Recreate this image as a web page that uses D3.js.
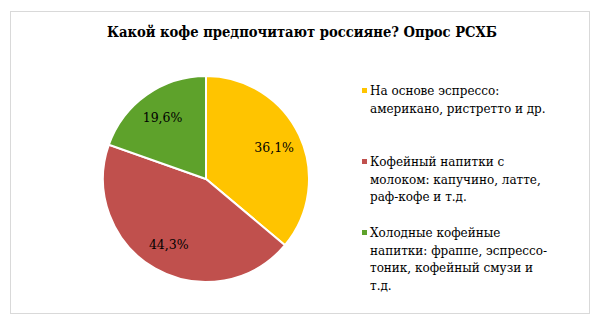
<!DOCTYPE html>
<html>
<head>
<meta charset="utf-8">
<script src="https://cdn.jsdelivr.net/npm/d3@7"></script>
<style>
  body { margin: 0; background: #fff; }
</style>
</head>
<body>
<div id="chart"></div>
<script>
const title = 'Какой кофе предпочитают россияне? Опрос РСХБ'
const categories = ['espresso', 'milk', 'cold']
const values = [36.1, 44.3, 19.6]
const valueLabels = ['36,1%', '44,3%', '19,6%']
const legendLines = [
  ['На основе эспрессо:', 'американо, ристретто и др.'],
  ['Кофейный напитки с', 'молоком: капучино, латте,', 'раф-кофе и т.д.'],
  ['Холодные кофейные', 'напитки: фраппе, эспрессо-', 'тоник, кофейный смузи и', 'т.д.']
]
const colorRange = ['#ffc400', '#c0504d', '#5ea22b']

const width = 600
const height = 323
const center = { X: 206, Y: 179 }
const radius = 103
const font = "'DejaVu Serif', 'Liberation Serif', serif"

const svg = d3.select('#chart')
  .append('svg')
  .attr('width', width)
  .attr('height', height)
  .attr('font-family', font)

svg.append('rect')
  .attr('x', 10.5)
  .attr('y', 11.5)
  .attr('width', 579)
  .attr('height', 302)
  .attr('fill', '#fff')
  .attr('stroke', '#d9d9d9')

svg.append('text')
  .attr('x', 302)
  .attr('y', 37)
  .attr('text-anchor', 'middle')
  .attr('font-family', font)
  .attr('font-size', 14)
  .attr('font-weight', 'bold')
  .attr('textLength', 390)
  .attr('lengthAdjust', 'spacingAndGlyphs')
  .text(title)

const color = d3.scaleOrdinal().domain(categories).range(colorRange)

const pie = d3.pie().sort(null).value(d => d.value)
const data = categories.map((key, i) => ({ key, value: values[i], label: valueLabels[i] }))
const arcs = pie(data)

const arc = d3.arc().innerRadius(0).outerRadius(radius)
const labelArc = d3.arc().innerRadius(radius * 0.73).outerRadius(radius * 0.73)

const g = svg.append('g').attr('transform', `translate(${center.X}, ${center.Y})`)

g.selectAll('path')
  .data(arcs)
  .join('path')
  .attr('d', arc)
  .attr('fill', d => color(d.data.key))
  .attr('stroke', '#fff')
  .attr('stroke-width', 2)

g.selectAll('.label')
  .data(arcs)
  .join('text')
  .attr('class', 'label')
  .attr('transform', d => `translate(${labelArc.centroid(d)})`)
  .attr('text-anchor', 'middle')
  .attr('dy', '0.35em')
  .attr('font-family', font)
  .attr('font-size', 12.5)
  .text(d => d.data.label)

// legend
const legendX = 362
const legendTop = [95, 166, 237]
const lineHeight = 17.5

const legend = svg.selectAll('.legend')
  .data(categories)
  .join('g')
  .attr('class', 'legend')
  .attr('transform', (d, i) => `translate(${legendX}, ${legendTop[i]})`)

legend.append('rect')
  .attr('x', 0)
  .attr('y', -7)
  .attr('width', 5)
  .attr('height', 5)
  .attr('fill', d => color(d))

legend.append('text')
  .attr('font-family', font)
  .attr('font-size', 12)
  .selectAll('tspan')
  .data((d, i) => legendLines[i])
  .join('tspan')
  .attr('x', 8)
  .attr('y', (d, i) => i * lineHeight)
  .text(d => d)
</script>
</body>
</html>
